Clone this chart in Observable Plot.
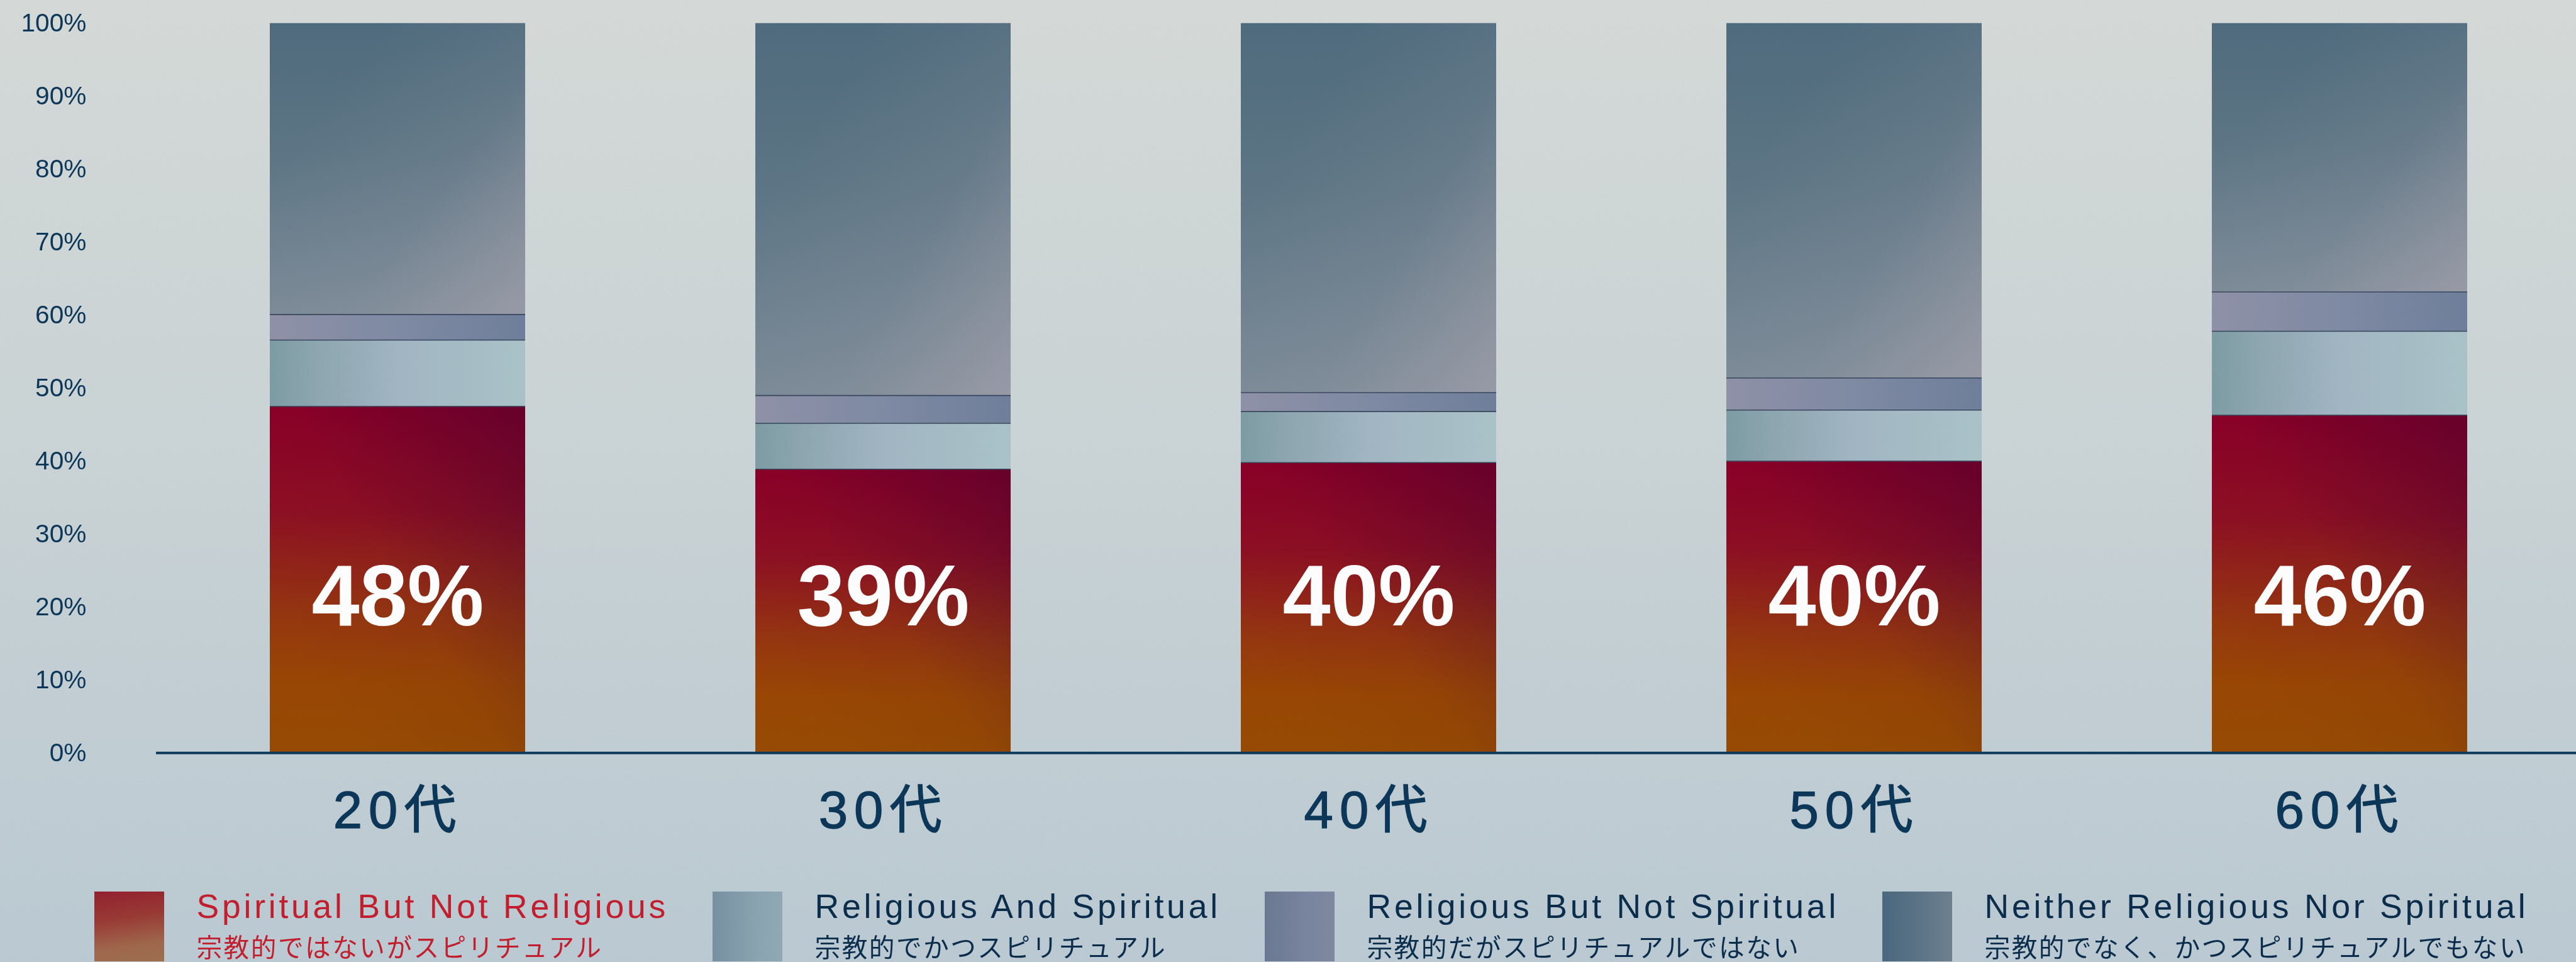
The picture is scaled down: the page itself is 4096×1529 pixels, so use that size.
<!DOCTYPE html>
<html>
<head>
<meta charset="utf-8">
<script src="https://cdn.jsdelivr.net/npm/d3@7"></script>
<script src="https://cdn.jsdelivr.net/npm/@observablehq/plot@0.6"></script>
<style>
  html, body { margin: 0; padding: 0; }
  body {
    width: 4096px; height: 1529px; overflow: hidden;
    background: linear-gradient(to bottom, #d6dbd9 0%, #ccd5d7 45%, #bccbd4 100%);
  }
  #page { position: relative; width: 4096px; height: 1529px; }
  #chart svg { display: block; }
  #legend { position: relative; width: 4096px; }
  #noise { position: absolute; left: 0; top: 0; pointer-events: none; opacity: 0.07; mix-blend-mode: multiply; }
</style>
</head>
<body>
<div id="page">
  <div id="chart"></div>
  <div id="legend"></div>
  <svg id="noise" width="4096" height="1529">
    <filter id="paper"><feTurbulence type="fractalNoise" baseFrequency="0.55" numOctaves="3" seed="4"/><feColorMatrix type="saturate" values="0"/></filter>
    <rect width="4096" height="1529" filter="url(#paper)"/>
  </svg>
</div>
<script>
// ---------- data ----------
const ages = ["20代", "30代", "40代", "50代", "60代"];
const categories = [
  "Spiritual But Not Religious",
  "Religious And Spiritual",
  "Religious But Not Spiritual",
  "Neither Religious Nor Spiritual"
];
const categoriesJa = [
  "宗教的ではないがスピリチュアル",
  "宗教的でかつスピリチュアル",
  "宗教的だがスピリチュアルではない",
  "宗教的でなく、かつスピリチュアルでもない"
];
const spiritualNotReligious = [47.5, 38.9, 39.8, 40.0, 46.3];
const religiousAndSpiritual = [9.1, 6.3, 7.0, 7.0, 11.5];
const religiousNotSpiritual = [3.5, 3.8, 2.6, 4.4, 5.4];
const neitherReligiousNorSpiritual = [39.9, 51.0, 50.6, 48.6, 36.8];
const yTicks = [0, 10, 20, 30, 40, 50, 60, 70, 80, 90, 100];

// ---------- styles / layout ----------
const k = 0.992;
const W = 4096, H = 1529;
const navy = "#0c3759";
const seriesList = [spiritualNotReligious, religiousAndSpiritual, religiousNotSpiritual, neitherReligiousNorSpiritual];
const table = ages.flatMap((age, i) => categories.map((c, j) => ({age, category: c, value: seriesList[j][i]})));
const baseFill = {
  [categories[0]]: "url(#gSBNR)",
  [categories[1]]: "url(#gRAS)",
  [categories[2]]: "url(#gRBNS)",
  [categories[3]]: "url(#gNRNS)"
};
const overlayFill = {
  [categories[0]]: "url(#gSBNRshade)",
  [categories[1]]: "none",
  [categories[2]]: "none",
  [categories[3]]: "url(#gNRNSshade)"
};
const legendColors = [
  "linear-gradient(172deg, #93202f 0%, #9a3a35 38%, #a0684c 75%, #9e6f4f 100%)",
  "linear-gradient(to right, #7891a3, #8aa4b2 60%, #91aab6)",
  "linear-gradient(to right, #6b7994, #7a86a0 60%, #8089a2)",
  "linear-gradient(to right, #4a6880, #5d7588 55%, #6f8190)"
];
const legendTextColors = ["#c41e2e", "#0b2d4c", "#0b2d4c", "#0b2d4c"];
const legendX = [151, 1142, 2027, 3017];

const svgH = 1380 * k;
const stackOpts = {x: "age", y: "value", z: "category", order: categories};

const chart = Plot.plot({
  width: W,
  height: svgH,
  marginTop: 37 * k,
  marginBottom: (1380 - 1206) * k,
  marginLeft: 250 * k,
  marginRight: 0,
  style: {background: "transparent", fontFamily: "'Liberation Sans', 'Noto Sans CJK JP', sans-serif", overflow: "visible"},
  x: {domain: ages, paddingInner: 0.474, paddingOuter: 0.2268, align: 0.5125, label: null},
  y: {domain: [0, 100], label: null},
  color: {type: "identity"},
  marks: [
    Plot.barY(table, Plot.stackY({...stackOpts, fill: d => baseFill[d.category]})),
    Plot.barY(table, Plot.stackY({...stackOpts, fill: d => overlayFill[d.category]})),
    Plot.tickY(table, Plot.stackY1({...stackOpts, stroke: "#37465c", strokeWidth: 1.6 * k})),
    Plot.text(ages, {
      x: d => d,
      text: (d, i) => Math.round(spiritualNotReligious[i]) + "%",
      frameAnchor: "bottom",
      dy: -204 * k,
      fill: "white",
      fontSize: 138 * k,
      fontWeight: "bold",
      ariaLabel: "value label"
    }),
    Plot.axisY({
      ticks: yTicks,
      tickFormat: d => d + "%",
      tickSize: 0,
      tickPadding: 112 * k,
      fontSize: 41 * k,
      fill: navy,
      label: null
    }),
    Plot.axisX({
      tickSize: 0,
      tickPadding: 60 * k,
      fontSize: 84 * k,
      fill: navy,
      label: null
    }),
    Plot.ruleY([0], {stroke: "#0d3a5c", strokeWidth: 4 * k})
  ]
});

// gradient definitions
const defs = `
<defs>
  <linearGradient id="gSBNR" x1="0" y1="0" x2="0" y2="1">
    <stop offset="0" stop-color="#8d0027"/>
    <stop offset="0.3" stop-color="#8f0f23"/>
    <stop offset="0.6" stop-color="#963610"/>
    <stop offset="0.8" stop-color="#9a4704"/>
    <stop offset="1" stop-color="#974b03"/>
  </linearGradient>
  <linearGradient id="gSBNRshade" x1="0.1" y1="0.75" x2="1" y2="0">
    <stop offset="0" stop-color="#3a0030" stop-opacity="0"/>
    <stop offset="0.4" stop-color="#3a0030" stop-opacity="0.04"/>
    <stop offset="1" stop-color="#3a0030" stop-opacity="0.45"/>
  </linearGradient>
  <linearGradient id="gRAS" x1="0" y1="0" x2="1" y2="0">
    <stop offset="0" stop-color="#7e9da5"/>
    <stop offset="0.18" stop-color="#8ea7b1"/>
    <stop offset="0.5" stop-color="#a2b7c4"/>
    <stop offset="1" stop-color="#abc4ca"/>
  </linearGradient>
  <linearGradient id="gRBNS" x1="0" y1="0" x2="1" y2="0">
    <stop offset="0" stop-color="#9092a8"/>
    <stop offset="0.45" stop-color="#818ca5"/>
    <stop offset="1" stop-color="#70809c"/>
  </linearGradient>
  <linearGradient id="gNRNS" x1="0" y1="0" x2="0" y2="1">
    <stop offset="0" stop-color="#4f6c7e"/>
    <stop offset="0.45" stop-color="#5e7686"/>
    <stop offset="1" stop-color="#7a8a97"/>
  </linearGradient>
  <linearGradient id="gNRNSshade" x1="0.2" y1="0.3" x2="1" y2="1">
    <stop offset="0" stop-color="#a6a3ae" stop-opacity="0"/>
    <stop offset="0.5" stop-color="#a6a3ae" stop-opacity="0.15"/>
    <stop offset="1" stop-color="#a6a3ae" stop-opacity="0.7"/>
  </linearGradient>
</defs>`;
chart.insertAdjacentHTML("afterbegin", defs);

// extra text styling
const st = document.createElementNS("http://www.w3.org/2000/svg", "style");
st.textContent = `
  g[aria-label="x-axis tick label"] text { letter-spacing: ${10 * k}px; stroke: ${navy}; stroke-width: ${1.4 * k}px; }
  g[aria-label="value label"] text { letter-spacing: ${10 * k}px; font-family: 'Liberation Sans', Arial, sans-serif; }
`;
chart.appendChild(st);
document.getElementById("chart").appendChild(chart);

// legend
const legend = document.getElementById("legend");
legend.style.height = (H - svgH) + "px";
categories.forEach((c, i) => {
  const item = document.createElement("div");
  item.style.cssText = `position:absolute;left:${legendX[i] * k}px;top:${48 * k}px;height:${112 * k}px;`;
  const sw = document.createElement("div");
  sw.style.cssText = `position:absolute;left:0;top:0;width:${112 * k}px;height:${112 * k}px;background:${legendColors[i]};`;
  const en = document.createElement("div");
  en.textContent = c;
  en.style.cssText = `position:absolute;left:${164 * k}px;top:${-2.7 * k}px;white-space:nowrap;font-family:'Liberation Sans',Arial,sans-serif;font-size:${54 * k}px;line-height:${54 * k}px;letter-spacing:${4.8 * k}px;color:${legendTextColors[i]};`;
  const ja = document.createElement("div");
  ja.textContent = categoriesJa[i];
  ja.style.cssText = `position:absolute;left:${164 * k}px;top:${68 * k}px;white-space:nowrap;font-family:'Noto Sans CJK JP',sans-serif;font-size:${41 * k}px;line-height:${41 * k}px;letter-spacing:${2.5 * k}px;color:${legendTextColors[i]};`;
  item.appendChild(sw);
  item.appendChild(en);
  item.appendChild(ja);
  legend.appendChild(item);
});
</script>
</body>
</html>
